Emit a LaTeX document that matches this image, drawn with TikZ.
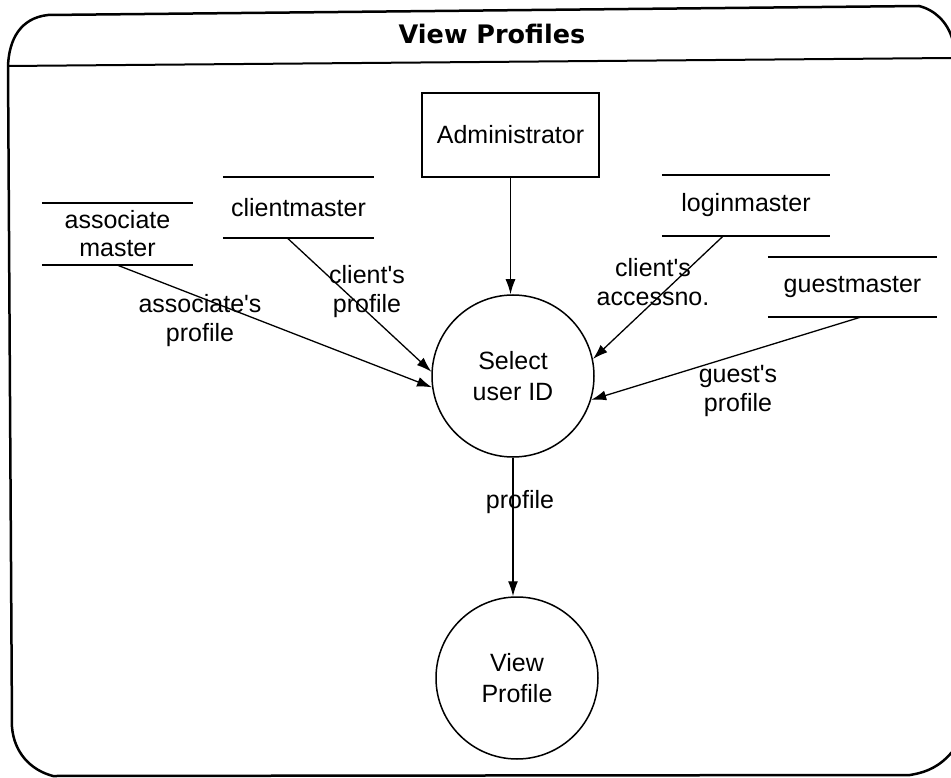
\documentclass[tikz,border=0pt]{standalone}
\usepackage{fontspec}
\setmainfont{Liberation Sans}
\newfontfamily\titlefont{DejaVu Sans}
\usetikzlibrary{arrows.meta}

\newcommand{\apos}{\textquotesingle}

\tikzset{
  txt/.style={font=\fontsize{25}{29}\selectfont, align=center, inner sep=0pt},
  proc/.style={circle, draw, line width=1.5pt, font=\fontsize{25}{31}\selectfont, align=center},
  entity/.style={draw, line width=1.5pt, font=\fontsize{25}{30}\selectfont, inner sep=0pt},
  store/.style={font=\fontsize{25}{28}\selectfont, align=center, inner sep=0pt},
  storeline/.style={line width=1.8pt},
  flow/.style={line width=1.3pt, -{Latex[length=15pt,width=10pt]}},
  frame/.style={line width=2.5pt, line join=round}
}

\begin{document}
\begin{tikzpicture}[x=1pt, y=-1pt]
\useasboundingbox (0,0) rectangle (951,778);

% outer rounded frame and title bar (right side runs past the page edge)
\draw[frame] (8,66) .. controls (9,40) and (20,18) .. (48,15)
  -- (919,6) .. controls (935,10) and (947,22) .. (952,38)
  -- (965,60) -- (965,740) -- (952,752)
  .. controls (940,766) and (928,772) .. (910,775)
  -- (53,776) .. controls (30,770) and (14,752) .. (12,727) -- cycle;
\draw[line width=2pt] (8,66) -- (952,58);
\node[inner sep=0pt, font=\titlefont\bfseries\fontsize{25.5}{30}\selectfont] (title) at (492,34) {View Profiles};

% external entity
\node[entity, minimum width=177pt, minimum height=84pt] (adm) at (510.5,135) {Administrator};

% processes
\node[proc, minimum size=162pt] (sel) at (513,376) {Select\\user ID};
\node[proc, minimum size=162pt] (view) at (517,678) {View\\Profile};

% data stores
\node[store, minimum width=151pt, minimum height=62pt] (asm) at (117.5,234) {associate\\master};
\node[store, minimum width=151pt, minimum height=61pt] (clm) at (298.5,207.5) {clientmaster};
\node[store, minimum width=168pt, minimum height=61pt] (lgm) at (746,205.5) {loginmaster};
\node[store, minimum width=169pt, minimum height=60pt] (gsm) at (852.5,287) {guestmaster};
\foreach \s in {asm,clm,lgm,gsm}{
  \draw[storeline] (\s.north west) -- (\s.north east);
  \draw[storeline] (\s.south west) -- (\s.south east);
}

% data flows
\draw[flow] (adm.south) -- (adm.south |- sel.north);
\draw[flow] (asm.south) -- (sel.188);
\draw[flow] ([xshift=-11pt]clm.south) -- (sel.177);
\draw[flow] ([xshift=-23pt]lgm.south) -- (sel.12);
\draw[flow] ([xshift=8pt]gsm.south) -- (sel.343);
\draw[flow] (sel.south) -- (sel.south |- view.north);

% flow labels
\node[txt] (l1) at (200,321) {associate\apos s\\profile};
\node[txt] (l2) at (367,292) {client\apos s\\profile};
\node[txt] (l3) at (653,282) {client\apos s\\accessno.};
\node[txt] (l4) at (738,391) {guest\apos s\\profile};
\node[txt] (l5) at (520,502) {profile};
\end{tikzpicture}
\end{document}
